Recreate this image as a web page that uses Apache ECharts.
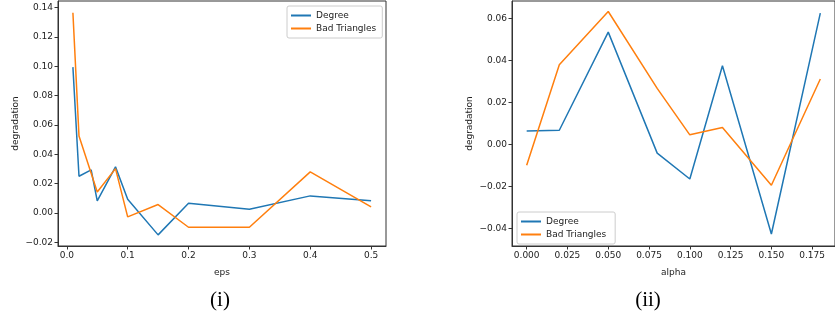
<!DOCTYPE html>
<html>
<head>
<meta charset="utf-8">
<script src="https://cdn.jsdelivr.net/npm/echarts@6/dist/echarts.min.js"></script>
<style>
  html, body { margin: 0; padding: 0; background: #fff; }
  #main { width: 835px; height: 322px; }
</style>
</head>
<body>
<div id="main"></div>
<script>
// (i) degradation vs eps
const epsValues = [0.01, 0.02, 0.04, 0.05, 0.08, 0.1, 0.15, 0.2, 0.3, 0.4, 0.5];
const degreeEps = [0.0995, 0.025, 0.0293, 0.0082, 0.0314, 0.0093, -0.015, 0.0066, 0.0025, 0.0116, 0.0082];
const badEps = [0.1366, 0.0525, 0.027, 0.0143, 0.0302, -0.0027, 0.0057, -0.0098, -0.0098, 0.028, 0.0041];

// (ii) degradation vs alpha
const alphaValues = [0, 0.02, 0.05, 0.08, 0.1, 0.12, 0.15, 0.18];
const degreeAlpha = [0.0064, 0.0068, 0.0535, -0.0041, -0.0164, 0.0375, -0.0426, 0.0625];
const badAlpha = [-0.0099, 0.038, 0.0633, 0.0267, 0.0046, 0.0081, -0.0194, 0.0312];

// tick labels
const epsTicks = [0, 0.1, 0.2, 0.3, 0.4, 0.5];
const leftYTicks = [-0.02, 0, 0.02, 0.04, 0.06, 0.08, 0.1, 0.12, 0.14];
const alphaTicks = [0, 0.025, 0.05, 0.075, 0.1, 0.125, 0.15, 0.175];
const rightYTicks = [-0.04, -0.02, 0, 0.02, 0.04, 0.06];

const BLUE = "#1f77b4";
const ORANGE = "#ff7f0e";
const TXT = "#222";
const FONT = "DejaVu Sans";

let pairs = (xs, ys) => xs.map((x, i) => [x, ys[i]]);
let fmt = (d) => (v) => Number(v).toFixed(d).replace("-", "\u2212");

let makeX = (idx, min, max, ticks, dec, name) => ({
  type: "value",
  gridIndex: idx,
  min: min,
  max: max,
  name: name,
  nameLocation: "middle",
  nameGap: 22,
  nameTextStyle: { color: TXT, fontSize: 9, fontFamily: FONT },
  splitLine: { show: false },
  axisLine: { show: true, onZero: false, lineStyle: { color: "#333", width: 1 } },
  axisTick: { show: true, length: 3.5, customValues: ticks, lineStyle: { color: "#333" } },
  axisLabel: {
    customValues: ticks,
    formatter: fmt(dec),
    color: TXT,
    fontSize: 9,
    fontFamily: FONT,
    margin: 5,
  },
});

let makeY = (idx, min, max, ticks, dec) => ({
  type: "value",
  gridIndex: idx,
  min: min,
  max: max,
  name: "degradation",
  nameLocation: "middle",
  nameGap: 38,
  nameTextStyle: { color: TXT, fontSize: 9, fontFamily: FONT },
  splitLine: { show: false },
  axisLine: { show: true, onZero: false, lineStyle: { color: "#333", width: 1 } },
  axisTick: { show: true, length: 3.5, customValues: ticks, lineStyle: { color: "#333" } },
  axisLabel: {
    customValues: ticks,
    formatter: fmt(dec),
    color: TXT,
    fontSize: 9,
    fontFamily: FONT,
    margin: 5,
  },
});

let makeLine = (name, data, color, idx) => ({
  name: name,
  type: "line",
  xAxisIndex: idx,
  yAxisIndex: idx,
  data: data,
  showSymbol: false,
  symbol: "none",
  lineStyle: { color: color, width: 1.5 },
  itemStyle: { color: color },
});

let legendBase = {
  orient: "vertical",
  icon: "rect",
  itemWidth: 20,
  itemHeight: 2,
  itemGap: 4,
  padding: [5, 6, 5, 4],
  borderColor: "#ccc",
  borderWidth: 1,
  borderRadius: 2,
  backgroundColor: "#fff",
  textStyle: { color: TXT, fontSize: 9, fontFamily: FONT },
};

let chart = echarts.init(document.getElementById("main"));
let option = {
  animation: false,
  backgroundColor: "#fff",
  title: [
    {
      text: "(i)",
      left: 215,
      top: 285,
      textAlign: "center",
      textStyle: { fontFamily: "Liberation Serif", fontSize: 21, fontWeight: "normal", color: "#000" },
    },
    {
      text: "(ii)",
      left: 643,
      top: 285,
      textAlign: "center",
      textStyle: { fontFamily: "Liberation Serif", fontSize: 21, fontWeight: "normal", color: "#000" },
    },
  ],
  grid: [
    { left: 58, top: 1, width: 328, height: 245, show: true, borderColor: "#333", borderWidth: 1 },
    { left: 512, top: 1, width: 331, height: 245, show: true, borderColor: "#333", borderWidth: 1 },
  ],
  xAxis: [
    makeX(0, -0.0145, 0.5245, epsTicks, 1, "eps"),
    makeX(1, -0.009, 0.189, alphaTicks, 3, "alpha"),
  ],
  yAxis: [
    makeY(0, -0.0226, 0.1446, leftYTicks, 2),
    makeY(1, -0.0483, 0.0683, rightYTicks, 2),
  ],
  legend: [
    Object.assign({}, legendBase, {
      left: 287,
      top: 6,
      data: ["Degree", "Bad Triangles"],
    }),
  ],
  series: [
    makeLine("Degree", pairs(epsValues, degreeEps), BLUE, 0),
    makeLine("Bad Triangles", pairs(epsValues, badEps), ORANGE, 0),
    makeLine("Degree ", pairs(alphaValues, degreeAlpha), BLUE, 1),
    makeLine("Bad Triangles ", pairs(alphaValues, badAlpha), ORANGE, 1),
  ],
};
option.legend.push(
  Object.assign({}, legendBase, {
    left: 517,
    top: 212,
    data: ["Degree ", "Bad Triangles "],
  })
);
chart.setOption(option);
</script>
</body>
</html>
